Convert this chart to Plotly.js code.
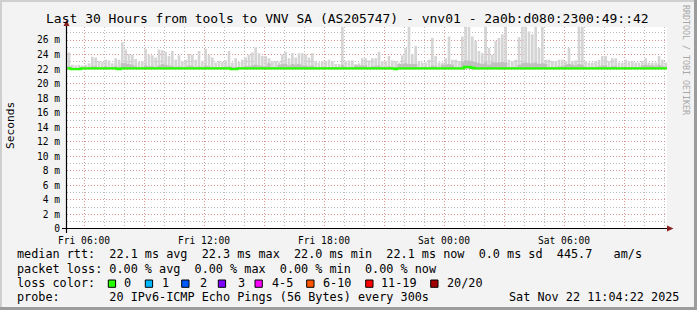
<!DOCTYPE html>
<html><head><meta charset="utf-8">
<script src="https://cdn.plot.ly/plotly-3.0.1.min.js"></script>
<style>html,body{margin:0;padding:0;background:#f3f3f3}#chart{width:697px;height:310px}</style>
</head><body><div id="chart"></div>
<script>
// ---------- data (10-minute bins, Fri 2025-11-21 05:10 .. Sat 11:00) ----------
const firstBin = '2025-11-21T05:10:00Z';
const binMinutes = 10;

// top of the smoke (max ping, ms)
const maxPing = [
 24.3,22.6,22.5,22.6,22.5,22.6,22.8,23.7,23.6,23.1,
 23.0,23.3,23.2,22.8,23.5,23.3,25.7,24.7,24.1,24.0,
 23.4,23.0,23.1,24.8,24.0,23.9,23.6,24.7,24.6,24.4,
 23.8,24.5,23.3,23.9,23.1,23.3,24.1,24.0,23.3,24.5,
 23.1,24.8,24.0,23.6,22.9,23.1,23.0,23.2,24.5,22.9,
 23.5,23.0,23.3,23.6,24.0,24.3,25.0,24.2,23.8,23.8,
 23.5,23.1,23.1,23.0,24.0,24.4,23.5,24.2,23.6,24.2,
 24.2,24.0,23.6,24.2,23.1,22.9,23.1,23.1,23.3,23.1,
 22.7,22.7,28.0,23.1,23.2,23.2,22.7,22.8,23.5,23.5,
 23.2,23.5,23.5,24.4,23.1,23.1,23.8,23.2,23.1,22.9,
 23.9,24.9,28.0,24.0,25.2,23.1,22.9,22.9,23.3,26.3,
 23.8,22.9,22.9,23.5,26.5,23.3,23.3,23.1,26.5,28.0,
 28.0,26.5,25.9,24.5,24.2,28.0,24.9,24.0,25.9,26.3,
 26.8,28.0,23.3,23.1,23.3,26.4,28.0,28.0,27.2,26.8,
 28.0,24.9,28.0,23.3,23.3,23.1,23.1,23.3,23.3,23.1,
 24.9,23.1,23.2,28.0,28.0,23.1,22.9,22.9,23.1,23.3,
 23.8,23.8,23.1,23.5,23.5,22.9,22.9,23.3,23.1,23.1,
 22.9,22.9,23.1,23.5,22.9,22.9,22.9,23.8,23.3,22.9];

// upper edge of the dense (darker) part of the smoke, ms
const innerPing = [
 22.4,22.2,22.2,22.2,22.2,22.2,22.3,22.4,22.4,22.3,
 22.3,22.4,22.3,22.3,22.4,22.3,22.8,22.8,22.7,22.6,
 22.4,22.3,22.3,22.5,22.4,22.4,22.3,22.5,22.7,22.6,
 22.5,22.4,22.3,22.4,22.3,22.3,22.5,22.4,22.3,22.4,
 22.3,22.5,22.4,22.3,22.3,22.3,22.3,22.3,22.4,22.3,
 22.3,22.3,22.3,22.4,22.4,22.5,22.6,22.5,22.4,22.4,
 22.8,22.3,22.3,22.6,22.7,22.7,22.5,22.7,22.6,22.7,
 22.5,22.5,22.4,22.5,22.3,22.3,22.3,22.3,22.3,22.3,
 22.3,22.3,22.6,22.3,22.3,22.3,22.5,22.5,22.5,22.5,
 22.3,22.4,22.4,22.5,22.3,22.3,22.4,22.3,22.3,22.7,
 22.7,22.8,22.7,22.7,22.7,22.3,22.3,22.3,22.3,22.5,
 22.4,22.3,22.6,22.6,22.7,22.6,22.3,22.3,23.0,23.2,
 23.2,23.1,23.0,22.8,22.7,22.9,22.6,22.9,22.9,22.9,
 23.0,22.9,22.3,22.3,22.3,22.6,22.8,22.9,22.8,22.8,
 22.9,22.7,22.8,22.7,22.3,22.3,22.3,22.4,22.4,22.6,
 22.7,22.6,22.5,22.7,22.6,22.3,22.3,22.3,22.3,22.4,
 22.5,22.5,22.3,22.4,22.4,22.3,22.3,22.3,22.3,22.3,
 22.3,22.3,22.5,22.6,22.5,22.5,22.4,22.6,22.4,22.3];

// bottom of the smoke (min ping, ms)
const minPing = [
 22.0,21.9,21.9,21.9,22.0,22.0,22.0,22.0,22.0,22.0,
 22.0,22.0,22.0,22.0,22.0,21.9,22.0,22.0,22.0,22.0,
 22.0,22.0,22.0,22.0,22.0,22.0,22.0,22.0,22.0,22.0,
 22.0,22.0,22.0,22.0,22.0,22.0,22.0,22.0,22.0,22.0,
 22.0,22.0,22.0,22.0,22.0,22.0,22.0,22.0,22.0,21.9,
 22.0,22.0,22.0,22.0,22.0,22.0,22.0,22.0,22.0,22.0,
 22.0,22.0,22.0,22.0,22.0,22.0,22.0,22.0,22.0,22.0,
 22.0,22.0,22.0,22.0,22.0,22.0,22.0,22.0,22.0,22.0,
 22.0,22.0,22.0,22.0,22.0,22.0,22.0,22.0,22.0,22.0,
 22.0,22.0,22.0,22.0,22.0,22.0,22.0,22.0,21.9,22.0,
 22.0,22.0,22.0,22.0,22.0,22.0,22.0,22.0,22.0,22.0,
 22.0,22.0,22.0,22.0,22.0,22.0,22.0,22.0,22.0,22.1,
 22.1,22.0,22.0,22.0,22.0,22.0,22.0,22.0,22.0,22.0,
 22.0,22.0,22.0,22.0,22.0,22.0,22.0,22.0,22.0,22.0,
 22.0,22.0,22.0,22.0,22.0,22.0,22.0,22.0,22.0,22.0,
 22.0,22.0,22.0,22.0,22.0,22.0,22.0,22.0,22.0,22.0,
 22.0,22.0,22.0,22.0,22.0,22.0,22.0,22.0,22.0,22.0,
 22.0,22.0,22.0,22.0,22.0,22.0,22.0,22.0,22.0,22.0];

// median rtt, ms
const medianRtt = [
 22.1,22.0,22.0,22.0,22.1,22.1,22.1,22.1,22.1,22.1,
 22.1,22.1,22.1,22.1,22.1,22.0,22.1,22.1,22.1,22.1,
 22.1,22.1,22.1,22.1,22.1,22.1,22.1,22.1,22.1,22.1,
 22.1,22.1,22.1,22.1,22.1,22.1,22.1,22.1,22.1,22.1,
 22.1,22.1,22.1,22.1,22.1,22.1,22.1,22.1,22.1,22.0,
 22.0,22.1,22.1,22.1,22.1,22.1,22.1,22.1,22.1,22.1,
 22.1,22.1,22.1,22.1,22.1,22.1,22.1,22.1,22.1,22.1,
 22.1,22.1,22.1,22.1,22.1,22.1,22.1,22.1,22.1,22.1,
 22.1,22.1,22.1,22.1,22.1,22.1,22.1,22.1,22.1,22.1,
 22.1,22.1,22.1,22.1,22.1,22.1,22.1,22.1,22.0,22.1,
 22.1,22.1,22.1,22.1,22.1,22.1,22.1,22.1,22.1,22.1,
 22.1,22.1,22.1,22.1,22.1,22.1,22.1,22.1,22.1,22.3,
 22.3,22.2,22.1,22.1,22.1,22.1,22.1,22.1,22.1,22.1,
 22.1,22.1,22.1,22.1,22.1,22.1,22.1,22.1,22.1,22.1,
 22.1,22.1,22.1,22.1,22.1,22.1,22.1,22.1,22.1,22.1,
 22.1,22.1,22.1,22.1,22.1,22.1,22.1,22.1,22.1,22.1,
 22.1,22.1,22.1,22.1,22.1,22.1,22.1,22.1,22.1,22.1,
 22.1,22.1,22.1,22.1,22.1,22.1,22.1,22.1,22.1,22.1];

const xTickVals = ['2025-11-21 06:00','2025-11-21 09:00','2025-11-21 12:00','2025-11-21 15:00',
  '2025-11-21 18:00','2025-11-21 21:00','2025-11-22 00:00','2025-11-22 03:00',
  '2025-11-22 06:00','2025-11-22 09:00'];
const xTickText = ['Fri 06:00','','Fri 12:00','','Fri 18:00','','Sat 00:00','','Sat 06:00',''];
const yTickVals = [0,2,4,6,8,10,12,14,16,18,20,22,24,26];
const yTickText = ['0','2 m','4 m','6 m','8 m','10 m','12 m','14 m','16 m','18 m','20 m','22 m','24 m','26 m'];

const titleText = 'Last 30 Hours from tools to VNV SA (AS205747) - vnv01 - 2a0b:d080:2300:49::42';
const statLines = [
 'median rtt:  22.1 ms avg  22.3 ms max  22.0 ms min  22.1 ms now  0.0 ms sd  445.7   am/s',
 'packet loss: 0.00 % avg  0.00 % max  0.00 % min  0.00 % now',
 'loss color:',
 'probe:       20 IPv6-ICMP Echo Pings (56 Bytes) every 300s'];
const stampText = 'Sat Nov 22 11:04:22 2025';
const lossLabels = ['0','1','2','3','4-5','6-10','11-19','20/20'];
const lossColors = ['#26ff00','#00b8ff','#0059ff','#7e00ff','#ff00ff','#ff5500','#ff0000','#a10000'];

// ---------- build ----------
const binMs = binMinutes*60000;
const t0 = Date.parse(firstBin);
const fmt = ms => new Date(ms).toISOString().replace('T',' ').slice(0,19);
const xs = maxPing.map((_, i) => fmt(t0 + i*binMs));
const X = xs.concat([fmt(t0 + maxPing.length*binMs)]);
const ext = a => a.concat([a[a.length-1]]);

const MONO = 'DejaVu Sans Mono';
const L=67, R=667, T=27, B=229, W=R-L, H=B-T;
const px = x => (x-L)/W, py = y => (B-y)/H;
const nb = s => s.replace(/ /g,'\u00a0');

const traces = [
 // spikes of the smoke (max ping)
 {x:xs, y:maxPing.map((v,i)=>v-minPing[i]), base:minPing, type:'bar', width:binMs*0.8, offset:binMs*0.1,
  marker:{color:'#d5d5d5', line:{width:0}}, hoverinfo:'skip', showlegend:false},
 // dense part of the smoke
 {x:X, y:ext(minPing), type:'scatter', mode:'lines', line:{width:0, shape:'hv'}, hoverinfo:'skip', showlegend:false},
 {x:X, y:ext(innerPing), type:'scatter', mode:'lines', line:{width:0, shape:'hv'}, fill:'tonexty', fillcolor:'#c0c0c0', hoverinfo:'skip', showlegend:false},
 // median
 {x:X, y:ext(medianRtt), type:'scatter', mode:'lines', line:{width:2.4, shape:'hv', color:'#26ff00'}, hoverinfo:'skip', showlegend:false}
];

const majorGrid = 'rgba(240,110,110,0.55)', minorGrid = 'rgba(160,160,160,0.7)';
const shapes = [];
const annotations = [];

// frame shading
shapes.push({type:'rect', xref:'paper', yref:'paper', x0:px(0), x1:px(697), y0:py(0), y1:py(2), fillcolor:'#cfcfcf', line:{width:0}, layer:'below'});
shapes.push({type:'rect', xref:'paper', yref:'paper', x0:px(0), x1:px(2), y0:py(0), y1:py(310), fillcolor:'#cfcfcf', line:{width:0}, layer:'below'});
shapes.push({type:'rect', xref:'paper', yref:'paper', x0:px(694), x1:px(697), y0:py(0), y1:py(310), fillcolor:'#9c9c9c', line:{width:0}, layer:'below'});
shapes.push({type:'rect', xref:'paper', yref:'paper', x0:px(0), x1:px(697), y0:py(307), y1:py(310), fillcolor:'#9c9c9c', line:{width:0}, layer:'below'});

// axes with arrows
shapes.push({type:'line', xref:'paper', yref:'paper', x0:px(62), x1:px(669), y0:py(228.5), y1:py(228.5), line:{color:'#000', width:1.2}});
shapes.push({type:'line', xref:'paper', yref:'paper', x0:px(66.5), x1:px(66.5), y0:py(233), y1:py(25), line:{color:'#000', width:1.2}});
shapes.push({type:'path', xref:'paper', yref:'paper', path:`M ${px(667)},${py(225.5)} L ${px(673.5)},${py(228.5)} L ${px(667)},${py(231.5)} Z`, fillcolor:'#8a1f1f', line:{width:0}});
shapes.push({type:'path', xref:'paper', yref:'paper', path:`M ${px(63.5)},${py(26)} L ${px(66.5)},${py(20)} L ${px(69.5)},${py(26)} Z`, fillcolor:'#8a1f1f', line:{width:0}});

// title & side texts
annotations.push({xref:'paper', yref:'paper', x:px(347.5), y:py(19), text:nb(titleText), showarrow:false, xanchor:'center', yanchor:'middle', font:{family:MONO, size:13, color:'#000'}});
annotations.push({xref:'paper', yref:'paper', x:px(10), y:py(126), text:'Seconds', textangle:-90, showarrow:false, xanchor:'center', yanchor:'middle', font:{family:MONO, size:11.2, color:'#000'}});
annotations.push({xref:'paper', yref:'paper', x:px(686), y:py(60), text:nb('RRDTOOL / TOBI OETIKER'), textangle:90, showarrow:false, xanchor:'center', yanchor:'middle', font:{family:MONO, size:8.3, color:'#a8a8a8'}});

// legend lines
const lineY = [254, 268.5, 282.5, 297];
statLines.forEach((s, i) => annotations.push({xref:'paper', yref:'paper', x:px(15), y:py(lineY[i]), text:nb(s), showarrow:false, xanchor:'left', yanchor:'middle', font:{family:MONO, size:11.8, color:'#000'}}));
annotations.push({xref:'paper', yref:'paper', x:px(681), y:py(lineY[3]), text:nb(stampText), showarrow:false, xanchor:'right', yanchor:'middle', font:{family:MONO, size:11.8, color:'#000'}});
const boxX = [108.3,145.3,181.7,218.3,255,306.7,365.7,430.7];
const labX = [122.3,160.3,198,236.3,269.7,321.3,379,444.7];
lossLabels.forEach((lab, i) => {
  shapes.push({type:'rect', xref:'paper', yref:'paper', x0:px(boxX[i]), x1:px(boxX[i]+7.3), y0:py(287.3), y1:py(280), fillcolor:lossColors[i], line:{color:'#000', width:1}});
  annotations.push({xref:'paper', yref:'paper', x:px(labX[i]), y:py(lineY[2]), text:nb(lab), showarrow:false, xanchor:'left', yanchor:'middle', font:{family:MONO, size:11.8, color:'#000'}});
});

const layout = {
  width:697, height:310,
  margin:{l:L, r:697-R, t:T, b:310-B, pad:0},
  paper_bgcolor:'#f3f3f3', plot_bgcolor:'#ffffff',
  showlegend:false, barmode:'overlay',
  xaxis:{type:'date', range:['2025-11-21 05:09','2025-11-22 11:09'], tickvals:xTickVals, ticktext:xTickText,
    ticks:'outside', ticklen:2, tickcolor:'rgba(0,0,0,0)', showline:false, zeroline:false,
    showgrid:true, gridcolor:majorGrid, griddash:'1px,2px', gridwidth:1,
    minor:{dtick:3600000, tick0:'2025-11-21 00:00', showgrid:true, gridcolor:minorGrid, griddash:'1px,2px', gridwidth:1},
    tickfont:{family:MONO, size:9.6, color:'#000'}, layer:'above traces', fixedrange:true},
  yaxis:{range:[0,27.8], tickvals:yTickVals, ticktext:yTickText,
    ticks:'outside', ticklen:4, tickcolor:'rgba(0,0,0,0)', showline:false, zeroline:false,
    showgrid:true, gridcolor:majorGrid, griddash:'1px,2px', gridwidth:1,
    minor:{dtick:1, showgrid:true, gridcolor:minorGrid, griddash:'1px,2px', gridwidth:1},
    tickfont:{family:MONO, size:9.6, color:'#000'}, layer:'above traces', fixedrange:true},
  shapes, annotations
};
Plotly.newPlot('chart', traces, layout, {displayModeBar:false, staticPlot:true});
</script></body></html>
